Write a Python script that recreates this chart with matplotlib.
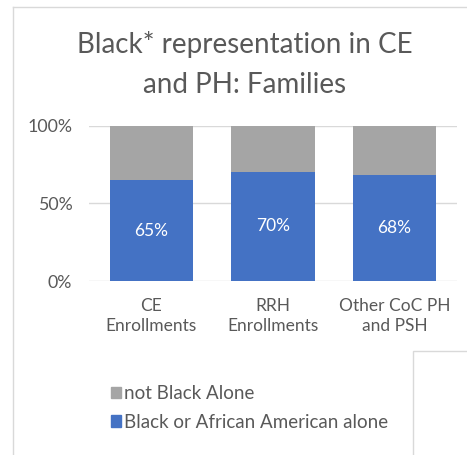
import matplotlib.pyplot as plt
from matplotlib.lines import Line2D
from matplotlib.patches import Rectangle, Patch
import numpy as np

plt.rcParams['font.family'] = ['Lato', 'DejaVu Sans']

# data
categories = ["CE\nEnrollments", "RRH\nEnrollments", "Other CoC PH\nand PSH"]
black_alone = [0.65, 0.704, 0.684]
not_black = [1 - v for v in black_alone]
labels = ["65%", "70%", "68%"]

blue = '#4472C4'
grey = '#A5A5A5'
txt = '#595959'
line_c = '#D9D9D9'

W, H = 467, 455
fig = plt.figure(figsize=(W/100, H/100), dpi=100)

# axes placed in pixel terms
x0, x1 = 89, 457
y_top, y_bot = 125.7, 281
ax = fig.add_axes([x0/W, (H-y_bot)/H, (x1-x0)/W, (y_bot-y_top)/H])

x = np.arange(len(categories))
bw = 0.683
ax.bar(x, black_alone, width=bw, color=blue, zorder=3, label="Black or African American alone")
ax.bar(x, not_black, bottom=black_alone, width=bw, color=grey, zorder=3, label="not Black Alone")

for xi, v, lab in zip(x, black_alone, labels):
    ax.text(xi, v/2, lab, ha='center', va='center', color='white', fontsize=12.5, zorder=4)

ax.set_xlim(-0.514, 2.514)
ax.set_ylim(0, 1)
ax.set_yticks([0, 0.5, 1])
ax.set_yticklabels(["0%", "50%", "100%"])
ax.set_xticks(x)
ax.set_xticklabels(categories, linespacing=1.3)
ax.grid(axis='y', color=line_c, linewidth=1, zorder=0)
for s in ax.spines.values():
    s.set_visible(False)
ax.tick_params(axis='both', length=0, colors=txt, labelsize=12.8)
ax.tick_params(axis='x', pad=12, labelsize=12.5)
ax.tick_params(axis='y', pad=12)

# title
fig.text(245/W, 1 - 53/H, "Black* representation in CE", ha='center', va='baseline',
         fontsize=20, color=txt)
fig.text(245/W, 1 - 93/H, "and PH: Families", ha='center', va='baseline',
         fontsize=20, color=txt)

# legend
h_blue = Patch(color=blue)
h_grey = Patch(color=grey)
fig.legend([h_grey, h_blue], ["not Black Alone", "Black or African American alone"],
           loc='upper left', bbox_to_anchor=(94/W, 1 - 368/H), frameon=False,
           fontsize=13.5, handlelength=0.55, handleheight=0.55, handletextpad=0.15,
           labelspacing=0.62, labelcolor=txt)

# outer frame lines and the box bottom-right
fig.add_artist(Line2D([13/W, 1], [1 - 7/H, 1 - 7/H], color=line_c, linewidth=1))
fig.add_artist(Line2D([13/W, 13/W], [0, 1 - 7/H], color=line_c, linewidth=1))
fig.add_artist(Rectangle((413/W, -0.01), 0.2, (H - 351)/H + 0.01, fill=False,
                         edgecolor=line_c, linewidth=1))

fig.savefig("out.png", dpi=100)
